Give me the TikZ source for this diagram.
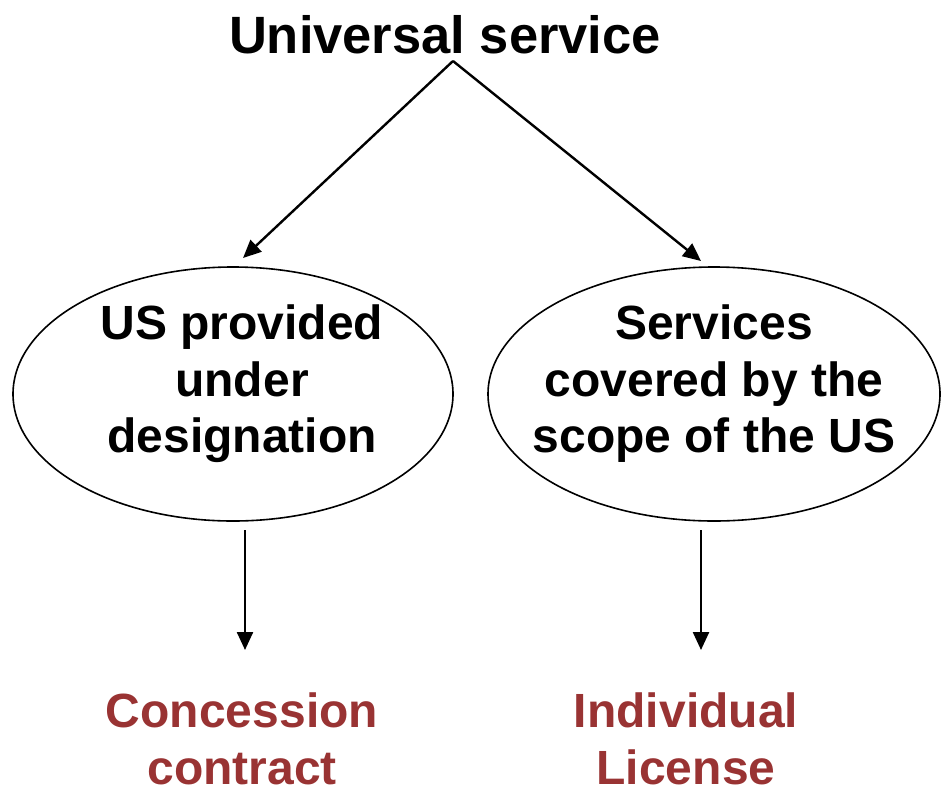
\documentclass[tikz,border=0pt]{standalone}
\usepackage{fontspec}
\setmainfont{Liberation Sans}
\usetikzlibrary{arrows.meta}
\definecolor{brickred}{RGB}{153,51,51}
\tikzset{
  conn/.style={line width=2.4pt, -{Triangle[length=18pt,width=16pt]}},
  oval/.style={draw, line width=1.6pt},
  label/.style={align=center, font=\fontsize{48}{56.5}\selectfont\bfseries, inner sep=0pt},
  result/.style={label, text=brickred},
}
\begin{document}
\begin{tikzpicture}[x=1pt,y=-1pt]
  \useasboundingbox (0,0) rectangle (942,785);
  \node[label, font=\fontsize{52.5}{60}\selectfont\bfseries] (root) at (445,35) {Universal service};
  \coordinate (apex) at (453,61);

  \draw[oval] (233,394) ellipse [x radius=220, y radius=127];
  \draw[oval] (714,394) ellipse [x radius=226, y radius=127];
  \node[label] (desig) at (242,384) {US provided\\under\\designation};
  \node[label] (scope) at (714,384) {Services\\covered by the\\scope of the US};

  \coordinate (lt) at (243,258);
  \coordinate (rt) at (701,261);
  \draw[conn] (apex) -- (lt);
  \draw[conn] (apex) -- (rt);

  \coordinate (lb0) at (245,530);
  \coordinate (lb1) at (245,650);
  \coordinate (rb0) at (701,530);
  \coordinate (rb1) at (701,650);
  \draw[conn] (lb0) -- (lb1);
  \draw[conn] (rb0) -- (rb1);

  \node[result] (conc) at (242,739) {Concession\\contract};
  \node[result] (lic) at (686,739) {Individual\\License};
\end{tikzpicture}
\end{document}
